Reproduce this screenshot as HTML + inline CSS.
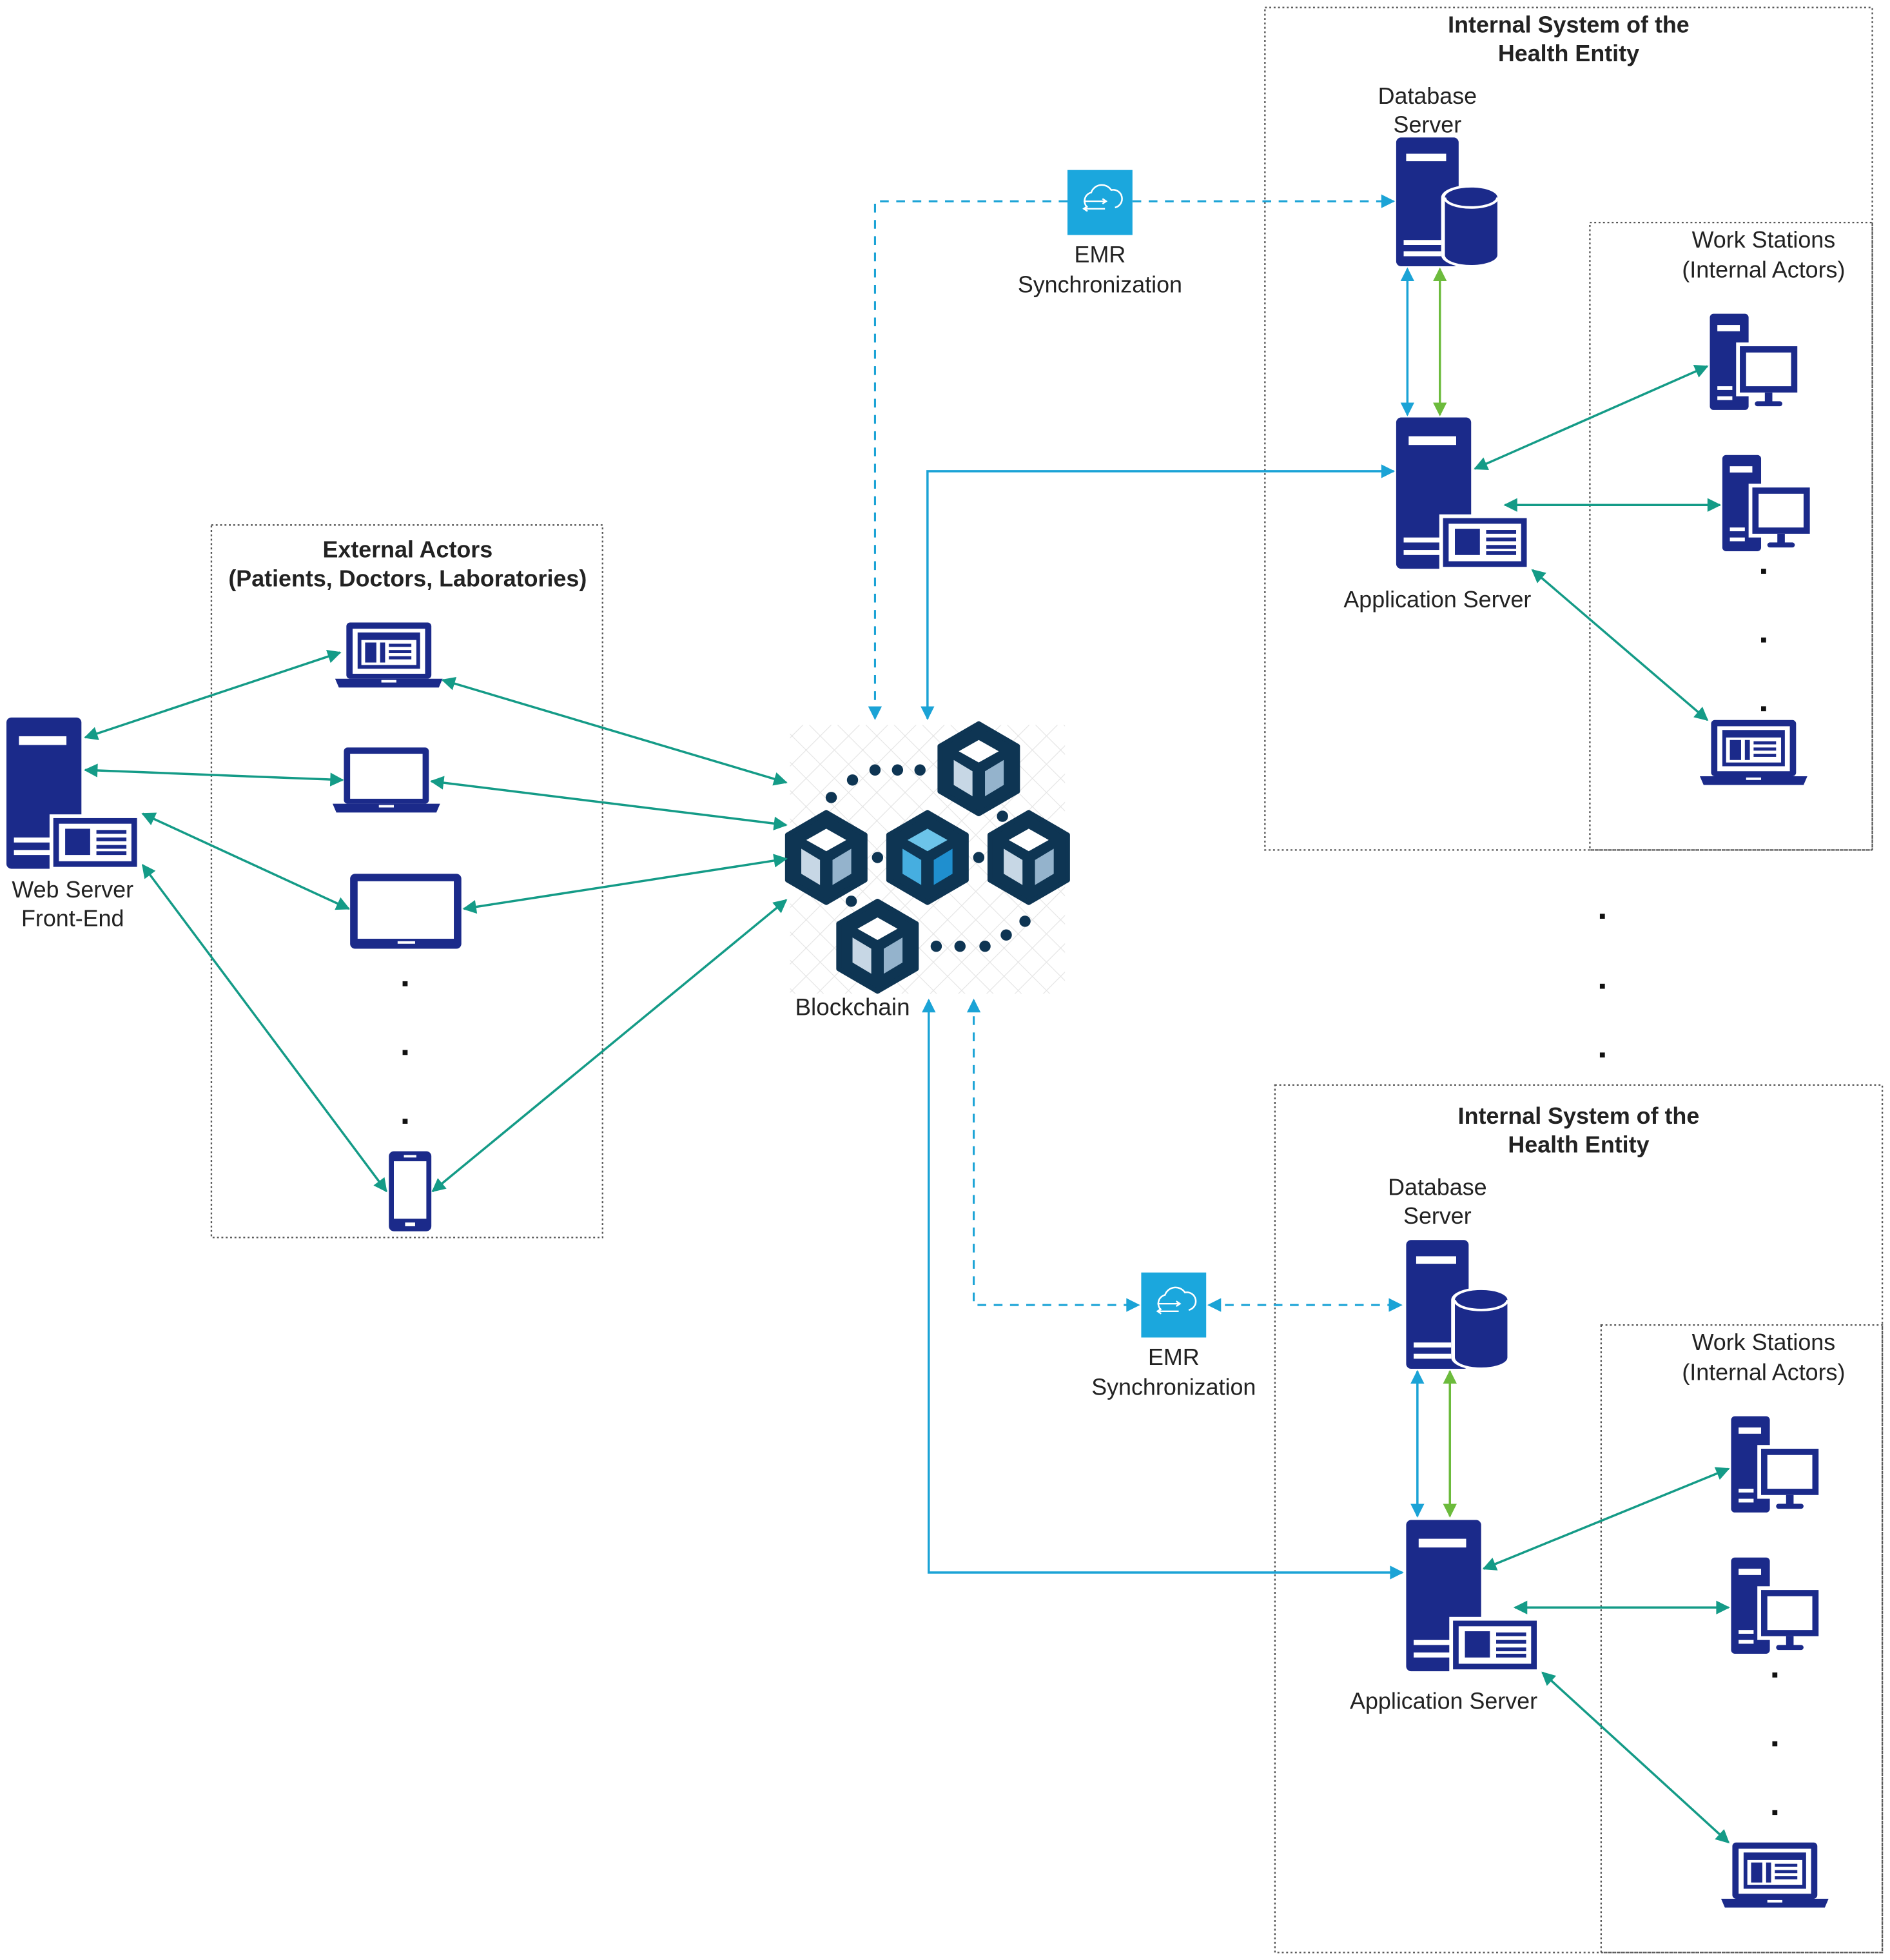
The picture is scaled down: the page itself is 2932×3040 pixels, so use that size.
<!DOCTYPE html>
<html><head><meta charset="utf-8"><style>html,body{margin:0;padding:0;background:#fff}svg{display:block}</style></head>
<body>
<svg width="2932" height="3040" viewBox="0 0 1512 1568" xmlns="http://www.w3.org/2000/svg" font-family="Liberation Sans, sans-serif">
<defs>
<marker id="mt" viewBox="0 0 10 10" refX="9" refY="5" markerWidth="14" markerHeight="11" markerUnits="userSpaceOnUse" orient="auto-start-reverse"><path d="M0,0 L10,5 L0,10 z" fill="#149b87"/></marker>
<marker id="mb" viewBox="0 0 10 10" refX="9" refY="5" markerWidth="14" markerHeight="11" markerUnits="userSpaceOnUse" orient="auto-start-reverse"><path d="M0,0 L10,5 L0,10 z" fill="#1ba3d6"/></marker>
<marker id="mg" viewBox="0 0 10 10" refX="9" refY="5" markerWidth="14" markerHeight="11" markerUnits="userSpaceOnUse" orient="auto-start-reverse"><path d="M0,0 L10,5 L0,10 z" fill="#6cbb3c"/></marker>
<pattern id="grid" width="16" height="16" patternUnits="userSpaceOnUse" patternTransform="rotate(45)"><path d="M0,0 H16 M0,0 V16" stroke="#e4e4e4" stroke-width="1.2" fill="none"/></pattern>
<g id="app">
 <rect x="0" y="0" width="60" height="121" rx="4" fill="#1b2a8a"/>
 <rect x="10" y="15" width="38" height="7" fill="#fff"/>
 <rect x="6" y="96" width="32" height="4" fill="#fff"/><rect x="6" y="106" width="32" height="4" fill="#fff"/>
 <rect x="36" y="79" width="70" height="42" fill="#1b2a8a" stroke="#fff" stroke-width="3"/>
 <rect x="42" y="85" width="58" height="30" fill="#fff"/>
 <rect x="47" y="89" width="20" height="21" fill="#1b2a8a"/>
 <rect x="72" y="90" width="24" height="3" fill="#1b2a8a"/><rect x="72" y="96" width="24" height="3" fill="#1b2a8a"/><rect x="72" y="102" width="24" height="3" fill="#1b2a8a"/><rect x="72" y="107" width="24" height="3" fill="#1b2a8a"/>
</g>
<g id="db">
 <rect x="0" y="0" width="50" height="103" rx="4" fill="#1b2a8a"/>
 <rect x="8" y="13" width="32" height="6" fill="#fff"/>
 <rect x="6" y="82" width="30" height="4" fill="#fff"/><rect x="6" y="91" width="30" height="4" fill="#fff"/>
 <path d="M36,48 a24,10 0 0 1 48,0 v46 a24,10 0 0 1 -48,0 z" fill="#fff"/>
 <path d="M39,48 a21,8 0 0 1 42,0 v46 a21,8 0 0 1 -42,0 z" fill="#1b2a8a"/>
 <path d="M39,48 a21,8 0 0 0 42,0" fill="none" stroke="#fff" stroke-width="2"/>
</g>
<g id="desk">
 <rect x="0" y="0" width="31" height="77" rx="3" fill="#1b2a8a"/>
 <rect x="6" y="9" width="18" height="5" fill="#fff"/>
 <rect x="6" y="58" width="12" height="3" fill="#fff"/><rect x="6" y="66" width="12" height="3" fill="#fff"/>
 <rect x="21" y="23" width="52" height="43" fill="#fff"/>
 <rect x="24" y="26" width="46" height="37" fill="#1b2a8a"/>
 <rect x="29" y="31" width="36" height="27" fill="#fff"/>
 <rect x="44" y="63" width="6" height="8" fill="#1b2a8a"/><rect x="36" y="70" width="22" height="4" rx="2" fill="#1b2a8a"/>
</g>
<g id="lap">
 <rect x="9" y="0" width="68" height="45" rx="3" fill="#1b2a8a"/>
 <rect x="14" y="5" width="58" height="36" fill="#fff"/>
 <path d="M0,45 H86 L83,52 H3 z" fill="#1b2a8a"/>
 <rect x="37" y="46" width="12" height="2" fill="#fff"/>
</g>
<g id="lapweb">
 <use href="#lap"/>
 <rect x="18" y="8" width="50" height="29" fill="#1b2a8a"/>
 <rect x="21" y="14" width="44" height="20" fill="#fff"/>
 <rect x="24" y="16" width="9" height="16" fill="#1b2a8a"/>
 <rect x="36" y="16" width="4" height="16" fill="#1b2a8a"/>
 <rect x="43" y="17" width="18" height="2.5" fill="#1b2a8a"/><rect x="43" y="22" width="18" height="2.5" fill="#1b2a8a"/><rect x="43" y="27" width="18" height="2.5" fill="#1b2a8a"/>
</g>
<g id="cube">
 <polygon points="0,-36 31,-18 31,18 0,36 -31,18 -31,-18" fill="#0e3553" stroke="#0e3553" stroke-width="4" stroke-linejoin="round"/>
 <polygon points="0,-23 16,-14 0,-5 -16,-14" fill="#fff"/>
 <polygon points="-20,-7 -5,2 -5,22 -20,13" fill="#c7d7e5"/>
 <polygon points="20,-7 5,2 5,22 20,13" fill="#94b3cc"/>
</g>
<g id="emr">
 <rect x="0" y="0" width="52" height="52" fill="#1ba7dd"/>
 <path d="M16,30 a7,7 0 0 1 3,-12 a9,9 0 0 1 16,-2 a7,7 0 0 1 3,14" fill="none" stroke="#fff" stroke-width="1.3"/>
 <path d="M13,25 H30 M28,23 l3,2 l-3,2 M13,31 H30 M16,29 l-3,2 l3,2" fill="none" stroke="#fff" stroke-width="1.2"/>
</g>
</defs>

<!-- containers -->
<g fill="none" stroke="#555" stroke-width="1.2" stroke-dasharray="1.5,2">
 <rect x="1012" y="6" width="486" height="674"/>
 <rect x="1272" y="178" width="226" height="502"/>
 <rect x="1020" y="868" width="486" height="694"/>
 <rect x="1281" y="1060" width="225" height="502"/>
 <rect x="169" y="420" width="313" height="570"/>
</g>

<!-- blockchain -->
<rect x="632" y="580" width="220" height="215" fill="url(#grid)"/>
<g fill="#0e3553">
 <circle cx="665" cy="638" r="4.5"/><circle cx="682" cy="624" r="4.5"/><circle cx="700" cy="616" r="4.5"/><circle cx="718" cy="616" r="4.5"/><circle cx="736" cy="616" r="4.5"/>
 <circle cx="802" cy="653" r="4.5"/><circle cx="702" cy="686" r="4.5"/><circle cx="783" cy="686" r="4.5"/><circle cx="681" cy="721" r="4.5"/>
 <circle cx="820" cy="737" r="4.5"/><circle cx="805" cy="748" r="4.5"/><circle cx="788" cy="757" r="4.5"/><circle cx="768" cy="757" r="4.5"/><circle cx="749" cy="757" r="4.5"/>
</g>
<use href="#cube" x="783" y="615"/>
<use href="#cube" x="661" y="686"/>
<g transform="translate(742,686)">
 <polygon points="0,-36 31,-18 31,18 0,36 -31,18 -31,-18" fill="#0e3553" stroke="#0e3553" stroke-width="4" stroke-linejoin="round"/>
 <polygon points="0,-23 16,-14 0,-5 -16,-14" fill="#6cc4ea"/>
 <polygon points="-20,-7 -5,2 -5,22 -20,13" fill="#46aee0"/>
 <polygon points="20,-7 5,2 5,22 20,13" fill="#1f8fcf"/>
</g>
<use href="#cube" x="823" y="686"/>
<use href="#cube" x="702" y="757"/>
<text x="682" y="812" font-size="19" text-anchor="middle" fill="#222">Blockchain</text>

<!-- icons -->
<use href="#db" x="1117" y="110"/>
<use href="#app" x="1117" y="334"/>
<use href="#db" x="1125" y="992"/>
<use href="#app" x="1125" y="1216"/>
<use href="#desk" x="1368" y="251"/>
<use href="#desk" x="1378" y="364"/>
<use href="#lapweb" x="1360" y="576"/>
<use href="#desk" x="1385" y="1133"/>
<use href="#desk" x="1385" y="1246"/>
<use href="#lapweb" x="1377" y="1474"/>
<use href="#app" x="5" y="574"/>
<use href="#lapweb" x="268" y="498"/>
<use href="#lap" x="266" y="598"/>
<g>
 <rect x="280" y="699" width="89" height="60" rx="4" fill="#1b2a8a"/>
 <rect x="286" y="705" width="77" height="46" fill="#fff"/>
 <rect x="318" y="753" width="14" height="2" fill="#fff"/>
</g>
<g>
 <rect x="311" y="921" width="34" height="64" rx="4" fill="#1b2a8a"/>
 <rect x="315" y="929" width="26" height="46" fill="#fff"/>
 <rect x="323" y="924" width="10" height="2" fill="#fff"/>
 <rect x="324" y="978" width="8" height="3" fill="#fff"/>
</g>
<use href="#emr" x="854" y="136"/>
<use href="#emr" x="913" y="1018"/>

<!-- dots -->
<g fill="#111">
 <rect x="1409" y="455" width="4" height="4"/><rect x="1409" y="510" width="4" height="4"/><rect x="1409" y="565" width="4" height="4"/>
 <rect x="1280" y="731" width="4" height="4"/><rect x="1280" y="787" width="4" height="4"/><rect x="1280" y="842" width="4" height="4"/>
 <rect x="1418" y="1338" width="4" height="4"/><rect x="1418" y="1393" width="4" height="4"/><rect x="1418" y="1448" width="4" height="4"/>
 <rect x="322" y="785" width="4" height="4"/><rect x="322" y="840" width="4" height="4"/><rect x="322" y="895" width="4" height="4"/>
</g>

<!-- connectors -->
<g fill="none" stroke="#149b87" stroke-width="1.8" marker-start="url(#mt)" marker-end="url(#mt)">
 <line x1="68" y1="590" x2="272" y2="522"/>
 <line x1="68" y1="616" x2="274" y2="624"/>
 <line x1="114" y1="651" x2="279" y2="727"/>
 <line x1="114" y1="692" x2="309" y2="953"/>
 <line x1="354" y1="544" x2="629" y2="626"/>
 <line x1="345" y1="625" x2="629" y2="660"/>
 <line x1="371" y1="727" x2="629" y2="687"/>
 <line x1="346" y1="953" x2="629" y2="720"/>
 <line x1="1180" y1="375" x2="1366" y2="293"/>
 <line x1="1204" y1="404" x2="1376" y2="404"/>
 <line x1="1226" y1="456" x2="1366" y2="576"/>
 <line x1="1187" y1="1255" x2="1383" y2="1175"/>
 <line x1="1212" y1="1286" x2="1383" y2="1286"/>
 <line x1="1234" y1="1338" x2="1383" y2="1474"/>
</g>
<g fill="none" stroke="#1ba3d6" stroke-width="1.8">
 <line x1="1126" y1="215" x2="1126" y2="332" marker-start="url(#mb)" marker-end="url(#mb)"/>
 <line x1="1134" y1="1097" x2="1134" y2="1213" marker-start="url(#mb)" marker-end="url(#mb)"/>
 <polyline points="742,575 742,377 1115,377" marker-start="url(#mb)" marker-end="url(#mb)"/>
 <polyline points="743,800 743,1258 1122,1258" marker-start="url(#mb)" marker-end="url(#mb)"/>
</g>
<g fill="none" stroke="#1ba3d6" stroke-width="1.6" stroke-dasharray="7,6">
 <polyline points="854,161 700,161 700,575" marker-end="url(#mb)"/>
 <line x1="906" y1="161" x2="1115" y2="161" marker-end="url(#mb)"/>
 <polyline points="779,800 779,1044 911,1044" marker-start="url(#mb)" marker-end="url(#mb)"/>
 <line x1="967" y1="1044" x2="1121" y2="1044" marker-start="url(#mb)" marker-end="url(#mb)"/>
</g>
<g fill="none" stroke="#6cbb3c" stroke-width="1.8">
 <line x1="1152" y1="215" x2="1152" y2="332" marker-start="url(#mg)" marker-end="url(#mg)"/>
 <line x1="1160" y1="1097" x2="1160" y2="1213" marker-start="url(#mg)" marker-end="url(#mg)"/>
</g>

<!-- labels -->
<g font-size="18.5" fill="#222" text-anchor="middle">
 <text x="1255" y="26" font-weight="bold">Internal System of the</text>
 <text x="1255" y="49" font-weight="bold">Health Entity</text>
 <text x="1142" y="83">Database</text><text x="1142" y="106">Server</text>
 <text x="1411" y="198">Work Stations</text><text x="1411" y="222">(Internal Actors)</text>
 <text x="1150" y="486">Application Server</text>
 <text x="880" y="210">EMR</text><text x="880" y="234">Synchronization</text>
 <text x="1263" y="899" font-weight="bold">Internal System of the</text>
 <text x="1263" y="922" font-weight="bold">Health Entity</text>
 <text x="1150" y="956">Database</text><text x="1150" y="979">Server</text>
 <text x="1411" y="1080">Work Stations</text><text x="1411" y="1104">(Internal Actors)</text>
 <text x="1155" y="1367">Application Server</text>
 <text x="939" y="1092">EMR</text><text x="939" y="1116">Synchronization</text>
 <text x="326" y="446" font-weight="bold">External Actors</text>
 <text x="326" y="469" font-weight="bold">(Patients, Doctors, Laboratories)</text>
 <text x="58" y="718">Web Server</text><text x="58" y="741">Front-End</text>
</g>
</svg>
</body></html>
